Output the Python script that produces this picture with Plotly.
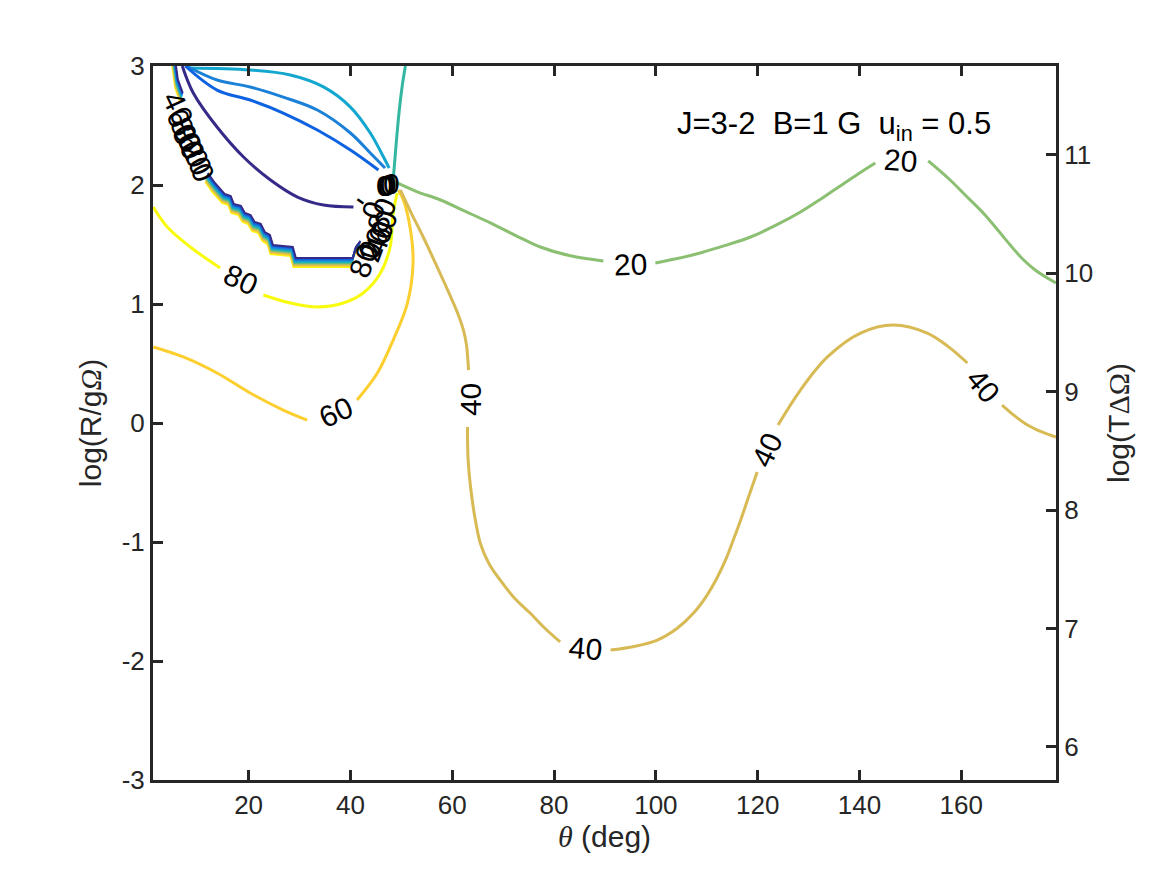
import plotly.graph_objects as go

# ---------------- data (theta in deg, y = log(R/g Omega)) ----------------
LEVELS = [80, 60, 40, 20, 0, -20, -40, -60, -80]
COLORS = ["#f9fb0e", "#fcce2e", "#d8ba55", "#8bbf71", "#33b7a0",
          "#13a7cf", "#1b80d7", "#0c62e0", "#352a87"]

# level 20
L20_A_TH = [49.2, 53.0, 57.7, 62.5, 67.5, 72.5, 77.3, 83.2, 89.7]
L20_A_Y = [2.017, 1.945, 1.874, 1.780, 1.681, 1.575, 1.479, 1.405, 1.361]
L20_B_TH = [99.9, 104.0, 108.7, 113.5, 118.6, 123.5, 128.4, 132.5, 136.2, 139.8, 143.1]
L20_B_Y = [1.345, 1.380, 1.429, 1.490, 1.563, 1.660, 1.773, 1.885, 1.992, 2.095, 2.185]
L20_C_TH = [153.5, 157.8, 161.0, 164.3, 167.0, 169.6, 172.0, 174.5, 178.6]
L20_C_Y = [2.202, 2.042, 1.905, 1.765, 1.630, 1.496, 1.380, 1.286, 1.176]

# level 40
L40_A_TH = [49.8, 52.0, 54.3, 56.3, 58.2, 59.8, 61.2, 62.2, 62.8, 63.2]
L40_A_Y = [1.958, 1.760, 1.563, 1.380, 1.202, 1.050, 0.908, 0.780, 0.655, 0.445]
L40_B_TH = [63.0, 63.1, 63.6, 64.4, 65.5, 67.2, 69.4, 72.2, 75.3, 78.2, 81.2]
L40_B_Y = [-0.034, -0.290, -0.538, -0.780, -1.008, -1.180, -1.319, -1.470, -1.597, -1.725, -1.840]
L40_C_TH = [91.1, 95.5, 100.3, 104.2, 107.4, 110.0, 112.1, 113.8, 115.2, 116.7, 118.0, 119.9]
L40_C_Y = [-1.908, -1.880, -1.824, -1.725, -1.597, -1.450, -1.294, -1.140, -0.983, -0.810, -0.647, -0.412]
L40_D_TH = [124.0, 128.4, 133.7, 140.2, 146.6, 153.3, 157.5, 161.2]
L40_D_Y = [-0.017, 0.277, 0.555, 0.756, 0.824, 0.756, 0.640, 0.504]
L40_E_TH = [168.0, 170.5, 173.0, 175.8, 178.6]
L40_E_Y = [0.151, 0.060, -0.017, -0.075, -0.118]

# level 60
L60_A_TH = [1.28, 7.17, 13.8, 20.3, 26.8, 31.5]
L60_A_Y = [0.639, 0.555, 0.420, 0.252, 0.109, 0.025]
L60_B_TH = [41.3, 45.3, 48.4, 51.2, 52.3, 51.8, 50.4, 49.4]
L60_B_Y = [0.193, 0.420, 0.697, 1.008, 1.345, 1.622, 1.874, 1.958]

# level 80
L80_A_TH = [1.28, 4.03, 8.54, 14.4]
L80_A_Y = [1.815, 1.647, 1.479, 1.303]
L80_B_TH = [22.9, 28.2, 33.5, 38.6, 42.5, 45.9, 47.8, 48.4, 49.2]
L80_B_Y = [1.076, 1.008, 0.975, 1.008, 1.092, 1.261, 1.479, 1.765, 1.933]

# level 0
L0_TH = [48.4, 49.0, 49.6, 50.2, 50.8]
L0_Y = [2.042, 2.353, 2.630, 2.840, 3.0]

# negative levels
LM20_TH = [8.15, 20.3, 28.2, 34.7, 40.0, 43.9, 46.5, 47.6]
LM20_Y = [2.983, 2.966, 2.924, 2.824, 2.655, 2.437, 2.235, 2.143]
LM40_TH = [7.76, 13.8, 20.3, 26.8, 33.5, 40.0, 43.9, 46.8]
LM40_Y = [3.0, 2.882, 2.824, 2.739, 2.630, 2.437, 2.269, 2.143]
LM60_TH = [7.56, 13.8, 20.3, 26.8, 33.5, 40.0, 45.5]
LM60_Y = [3.0, 2.798, 2.714, 2.605, 2.462, 2.294, 2.126]
LM80_TH = [6.97, 9.13, 13.8, 19.0, 24.3, 29.6, 34.7, 40.6]
LM80_Y = [3.0, 2.773, 2.487, 2.235, 2.042, 1.899, 1.832, 1.815]

# bundle of crowded contours (outer, level-80 edge) and per-level shifts
BUNDLE_TOP_TH = [5.01, 5.60, 6.58]
BUNDLE_TOP_Y = [3.0, 2.815, 2.697]
BUNDLE_LOW_TH = [11.5, 12.9, 14.8, 16.0, 16.6, 18.0, 18.8, 19.9, 20.7, 21.9,
                 22.7, 23.7, 24.3, 28.2, 28.8, 40.0, 40.6, 41.5]
BUNDLE_LOW_Y = [2.025, 1.941, 1.849, 1.832, 1.765, 1.748, 1.689, 1.672, 1.613,
                1.597, 1.529, 1.504, 1.420, 1.403, 1.311, 1.311, 1.403, 1.454]
BUNDLE_DTH = [0.0, 0.06, 0.12, 0.18, 0.24, 0.30, 0.36, 0.42, 0.48]
BUNDLE_DY = [0.0, 0.0095, 0.019, 0.0285, 0.038, 0.0475, 0.057, 0.0665, 0.076]

# contour labels: text, theta, y, angle
LABELS = [
    ("20", 95.0, 1.328, -2), ("20", 148.0, 2.21, 4),
    ("40", 63.5, 0.193, -90), ("40", 86.1, -1.891, 5),
    ("40", 121.7, -0.227, -65), ("40", 164.3, 0.319, 50),
    ("60", 37.0, 0.092, -25), ("80", 18.4, 1.202, 25),
    # crowded labels, upper left
    ("40", 6.2, 2.647, 65), ("60", 7.0, 2.504, 65), ("80", 7.6, 2.43, 65),
    ("80", 8.2, 2.361, 65), ("20", 9.7, 2.227, 65), ("60", 9.2, 2.29, 65),
    ("0", 11.1, 2.109, 65),
    # crowded labels near the singular point
    ("0", 47.0, 2.00, 0), ("0", 47.5, 2.005, 0), ("0", 48.0, 2.01, 0),
    ("0", 46.6, 1.995, 0), ("-", 42.3, 1.882, 35),
    ("0", 44.6, 1.79, -70), ("80", 46.2, 1.75, -70), ("60", 46.4, 1.64, -70),
    ("40", 45.6, 1.56, -70), ("20", 44.6, 1.50, -70), ("0", 43.8, 1.46, -70),
    ("80", 42.5, 1.36, -70),
]

SEGMENTS = {
    20: [(L20_A_TH, L20_A_Y), (L20_B_TH, L20_B_Y), (L20_C_TH, L20_C_Y)],
    40: [(L40_A_TH, L40_A_Y), (L40_B_TH, L40_B_Y), (L40_C_TH, L40_C_Y),
         (L40_D_TH, L40_D_Y), (L40_E_TH, L40_E_Y)],
    60: [(L60_A_TH, L60_A_Y), (L60_B_TH, L60_B_Y)],
    80: [(L80_A_TH, L80_A_Y), (L80_B_TH, L80_B_Y)],
    0: [(L0_TH, L0_Y)],
    -20: [(LM20_TH, LM20_Y)],
    -40: [(LM40_TH, LM40_Y)],
    -60: [(LM60_TH, LM60_Y)],
    -80: [(LM80_TH, LM80_Y)],
}

X_RANGE = [1.22, 178.6]
Y_RANGE = [-3, 3]
Y2_RANGE = [5.72, 11.75]
X_TICKS = [20, 40, 60, 80, 100, 120, 140, 160]
Y_TICKS = [-3, -2, -1, 0, 1, 2, 3]
Y_TICKTEXT = ["-3", "-2", "-1", "0", "1", "2", "3"]
Y2_TICKS = [6, 7, 8, 9, 10, 11]

# ---------------- figure ----------------
fig = go.Figure()
color_of = dict(zip(LEVELS, COLORS))

for i, lev in enumerate(LEVELS):
    for th, yy in [(BUNDLE_TOP_TH, BUNDLE_TOP_Y), (BUNDLE_LOW_TH, BUNDLE_LOW_Y)]:
        fig.add_trace(go.Scatter(
            x=[t + BUNDLE_DTH[i] for t in th], y=[v + BUNDLE_DY[i] for v in yy],
            mode="lines", line=dict(color=color_of[lev], width=2),
            hoverinfo="skip", showlegend=False))

for lev in LEVELS:
    for th, yy in SEGMENTS[lev]:
        fig.add_trace(go.Scatter(
            x=th, y=yy, mode="lines",
            line=dict(color=color_of[lev], width=3, shape="spline", smoothing=1.0),
            hoverinfo="skip", showlegend=False))

fig.add_trace(go.Scatter(x=[None], y=[None], yaxis="y2", mode="lines",
                         showlegend=False, hoverinfo="skip"))

FONT = "Liberation Sans, Arial, Helvetica, sans-serif"

for txt, th, yy, ang in LABELS:
    fig.add_annotation(x=th, y=yy, xref="x", yref="y", text=txt, showarrow=False,
                       textangle=ang, font=dict(family=FONT, size=30, color="black"))

fig.add_annotation(x=134.9, y=2.50, xref="x", yref="y", showarrow=False,
                   text="J=3-2\u00a0\u00a0B=1 G\u00a0\u00a0u<sub>in</sub> = 0.5",
                   font=dict(family=FONT, size=31, color="black"))

axis_common = dict(showline=True, linecolor="#262626", linewidth=3,
                   ticks="inside", ticklen=10, tickwidth=2.5, tickcolor="#262626",
                   showgrid=False, zeroline=False,
                   tickfont=dict(family=FONT, size=26, color="#262626"))

fig.update_layout(
    width=1167, height=875,
    margin=dict(l=145, r=119, t=58, b=103),
    paper_bgcolor="white", plot_bgcolor="white",
    font=dict(family=FONT, color="#262626"),
    xaxis=dict(range=X_RANGE, tickvals=X_TICKS, mirror="ticks",
               title=dict(text="<span style=\"font-family:'Liberation Serif';font-style:italic\">θ</span> (deg)",
                          font=dict(family=FONT, size=30, color="#262626"), standoff=6),
               **axis_common),
    yaxis=dict(range=Y_RANGE, tickvals=Y_TICKS, ticktext=Y_TICKTEXT,
               title=dict(text="log(R/g<span style=\"font-family:'Liberation Serif';font-style:italic\">Ω</span>)",
                          font=dict(family=FONT, size=30, color="#262626"), standoff=12),
               **axis_common),
    yaxis2=dict(range=Y2_RANGE, tickvals=Y2_TICKS, overlaying="y", side="right",
                anchor="x",
                title=dict(text="log(T<span style=\"font-family:'Liberation Serif'\">ΔΩ</span>)",
                           font=dict(family=FONT, size=30, color="#262626"), standoff=16),
                **axis_common),
)

fig.write_html("out.html")
